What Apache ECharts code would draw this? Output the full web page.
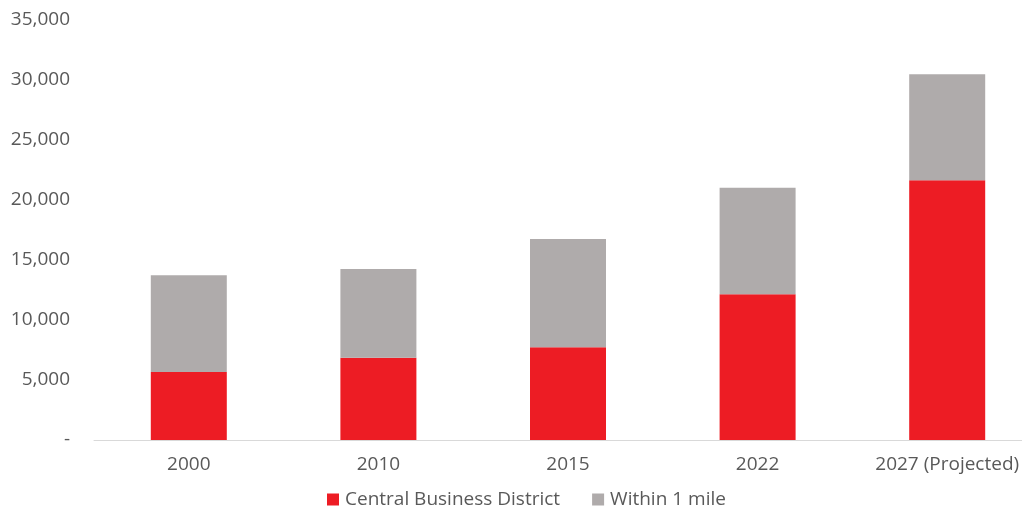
<!DOCTYPE html>
<html>
<head>
<meta charset="utf-8">
<script src="https://cdn.jsdelivr.net/npm/echarts@6/dist/echarts.min.js"></script>
<style>
html,body{margin:0;padding:0;background:#fff;overflow:hidden;width:1022px;height:506px;}
#chart{width:1042px;height:506px;}
</style>
</head>
<body>
<div id="chart"></div>
<script>
var categories = ['2000', '2010', '2015', '2022', '2027 (Projected)'];
var cbdValues = [5670, 6860, 7730, 12140, 21640];
var withinOneMileValues = [8050, 7390, 9020, 8890, 8840];
var seriesNames = ['Central Business District', 'Within 1 mile'];

var chart = echarts.init(document.getElementById('chart'));
var font = 'Open Sans';
chart.setOption({
  animation: false,
  backgroundColor: '#ffffff',
  textStyle: { fontFamily: font },
  grid: { left: 94, right: 0, top: 20, bottom: 66, containLabel: false },
  legend: {
    data: seriesNames,
    left: 322,
    top: 485,
    itemWidth: 12,
    itemHeight: 12,
    itemGap: 32,
    icon: 'rect',
    textStyle: { color: '#595959', fontSize: 19, fontFamily: font, padding: [0, 0, 0, 1] }
  },
  xAxis: {
    type: 'category',
    data: categories,
    axisLine: { show: true, lineStyle: { color: '#D9D9D9', width: 1 } },
    axisTick: { show: false },
    axisLabel: { color: '#595959', fontSize: 19, margin: 15, fontFamily: font }
  },
  yAxis: {
    type: 'value',
    min: 0,
    max: 35000,
    interval: 5000,
    splitLine: { show: false },
    axisLine: { show: false },
    axisTick: { show: false },
    axisLabel: {
      color: '#595959', fontSize: 19, margin: 24, fontFamily: font,
      formatter: function (v) { return v === 0 ? '-' : v.toLocaleString('en-US'); }
    }
  },
  series: [
    {
      name: seriesNames[0], type: 'bar', stack: 'total', data: cbdValues,
      barWidth: 76, itemStyle: { color: '#ED1C24' }
    },
    {
      name: seriesNames[1], type: 'bar', stack: 'total', data: withinOneMileValues,
      barWidth: 76, itemStyle: { color: '#AFABAB' }
    }
  ]
});
</script>
</body>
</html>
